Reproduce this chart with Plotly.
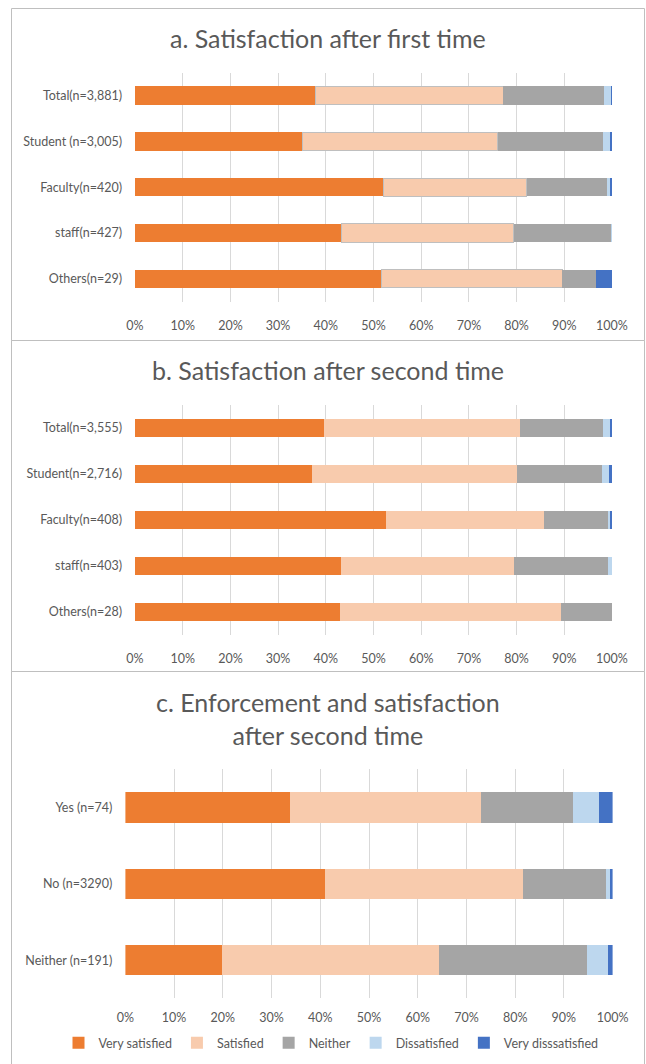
import plotly.graph_objects as go

# ---------------- data ----------------
series_names = ["Very satisfied", "Satisfied", "Neither", "Dissatisfied", "Very disssatisfied"]
series_colors = ["#ED7D31", "#F8CBAD", "#A5A5A5", "#BDD7EE", "#4472C4"]

cats_a = ["Total(n=3,881)", "Student (n=3,005)", "Faculty(n=420)", "staff(n=427)", "Others(n=29)"]
a_very_satisfied = [37.9, 35.1, 52.2, 43.3, 51.7]
a_satisfied = [39.3, 40.9, 29.9, 36.1, 37.9]
a_neither = [21.2, 22.2, 16.8, 20.4, 7.0]
a_dissatisfied = [1.4, 1.5, 0.6, 0.2, 0.0]
a_very_dissatisfied = [0.2, 0.3, 0.5, 0.0, 3.4]

cats_b = ["Total(n=3,555)", "Student(n=2,716)", "Faculty(n=408)", "staff(n=403)", "Others(n=28)"]
b_very_satisfied = [39.6, 37.1, 52.7, 43.1, 42.9]
b_satisfied = [41.1, 42.9, 33.1, 36.3, 46.4]
b_neither = [17.5, 17.9, 13.5, 19.8, 10.7]
b_dissatisfied = [1.4, 1.5, 0.4, 0.8, 0.0]
b_very_dissatisfied = [0.4, 0.6, 0.3, 0.0, 0.0]

cats_c = ["Yes (n=74)", "No (n=3290)", "Neither (n=191)"]
c_very_satisfied = [33.8, 41.0, 19.9]
c_satisfied = [39.2, 40.7, 44.4]
c_neither = [18.9, 16.9, 30.5]
c_dissatisfied = [5.4, 1.1, 4.2]
c_very_dissatisfied = [2.7, 0.3, 1.0]

x_ticks = [0, 10, 20, 30, 40, 50, 60, 70, 80, 90, 100]
x_tick_labels = ["0%", "10%", "20%", "30%", "40%", "50%", "60%", "70%", "80%", "90%", "100%"]

titles = ["a. Satisfaction after first time",
          "b. Satisfaction after second time",
          "c. Enforcement and satisfaction<br>after second time"]

# ---------------- layout helpers ----------------
W, H = 646, 1064
FONT = "Lato, 'Open Sans', sans-serif"
TXT = "#595959"

def px_x(p):
    return p / W

def px_y(p):
    return 1 - p / H

fig = go.Figure()

panels = [
    (cats_a, [a_very_satisfied, a_satisfied, a_neither, a_dissatisfied, a_very_dissatisfied], "x", "y"),
    (cats_b, [b_very_satisfied, b_satisfied, b_neither, b_dissatisfied, b_very_dissatisfied], "x2", "y2"),
    (cats_c, [c_very_satisfied, c_satisfied, c_neither, c_dissatisfied, c_very_dissatisfied], "x3", "y3"),
]

for pi, (cats, vals, xa, ya) in enumerate(panels):
    for si, (name, color, v) in enumerate(zip(series_names, series_colors, vals)):
        line_w = 1 if (pi == 0 and si == 1) else 0
        fig.add_trace(go.Bar(
            y=cats, x=v, name=name, orientation="h",
            marker=dict(color=color, line=dict(color="#BFBFBF", width=line_w)),
            legendgroup=name, showlegend=(pi == 2),
            xaxis=xa, yaxis=ya,
            hovertemplate="%{y}: %{x:.1f}%<extra>" + name + "</extra>",
        ))

xaxis_common = dict(
    range=[0, 100], tickmode="array", tickvals=x_ticks, ticktext=x_tick_labels,
    showgrid=True, gridcolor="#D9D9D9", gridwidth=1, zeroline=False,
    showline=False, ticks="outside", ticklen=12, tickcolor="rgba(0,0,0,0)",
    tickfont=dict(family=FONT, size=12.5, color=TXT), fixedrange=True,
    automargin=False,
)
yaxis_common = dict(
    autorange="reversed", showgrid=False, zeroline=False, showline=False,
    ticks="", ticklabelstandoff=12,
    tickfont=dict(family=FONT, size=12.5, color=TXT), fixedrange=True,
    automargin=False,
)

domains = [
    ([px_x(135), px_x(612)], [px_y(301.7), px_y(72.7)], 12),
    ([px_x(135), px_x(612)], [px_y(635), px_y(405)], 12),
    ([px_x(125.4), px_x(612.6)], [px_y(998.3), px_y(769.3)], 8),
]

layout_axes = {}
for i, (xd, yd, tl) in enumerate(domains):
    s = "" if i == 0 else str(i + 1)
    layout_axes["xaxis" + s] = dict(xaxis_common, domain=xd, anchor="y" + s, ticklen=tl)
    layout_axes["yaxis" + s] = dict(yaxis_common, domain=yd, anchor="x" + s)

shapes = []
for (top, bottom) in [(8.5, 340.5), (340.5, 671.5), (671.5, 1070)]:
    shapes.append(dict(type="rect", xref="paper", yref="paper",
                       x0=px_x(11.5), x1=px_x(644.5), y0=px_y(bottom), y1=px_y(top),
                       line=dict(color="#BFBFBF", width=1), fillcolor="rgba(0,0,0,0)",
                       layer="below"))

annotations = []
for t, yc in zip(titles, [38, 370, 718]):
    annotations.append(dict(text=t, xref="paper", yref="paper", x=px_x(328), y=px_y(yc),
                            xanchor="center", yanchor="middle", showarrow=False,
                            font=dict(family=FONT, size=25, color=TXT)))

fig.update_layout(
    width=W, height=H, margin=dict(l=0, r=0, t=0, b=0, autoexpand=False),
    paper_bgcolor="white", plot_bgcolor="white",
    barmode="stack", bargap=0.6,
    shapes=shapes, annotations=annotations,
    legend=dict(orientation="h", x=px_x(331), xanchor="center", y=px_y(1043), yanchor="middle",
                font=dict(family=FONT, size=12.5, color=TXT), traceorder="normal",
                itemwidth=30, bgcolor="rgba(0,0,0,0)"),
    font=dict(family=FONT, color=TXT),
    **layout_axes,
)

fig.write_html("out.html")
